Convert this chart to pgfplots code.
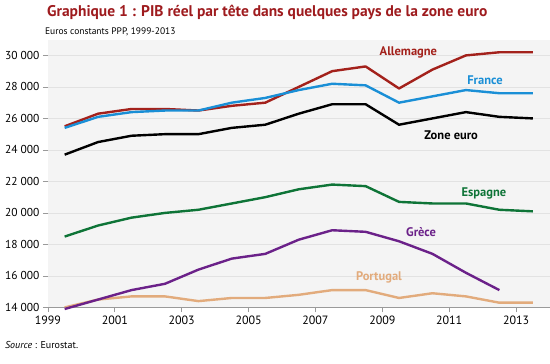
\documentclass[border=0pt]{standalone}
\usepackage{fontspec}
\setmainfont{PT Sans}
\usepackage{pgfplots}
\pgfplotsset{compat=1.18}
\definecolor{titred}{HTML}{9E1B1E}
\definecolor{cAll}{HTML}{A3211B}
\definecolor{cFra}{HTML}{1A8FD6}
\definecolor{cEsp}{HTML}{0E7437}
\definecolor{cGre}{HTML}{6B2189}
\definecolor{cPor}{HTML}{E2AB7C}
\definecolor{bgc}{HTML}{F4F4F4}
\definecolor{gridc}{HTML}{E2E2E2}
\definecolor{axc}{HTML}{9A9A9A}
\begin{document}
\begin{tikzpicture}
\path (0pt,0pt) rectangle (550pt,364pt);
\node[anchor=west, text=titred, inner sep=0pt, font=\fontsize{15.5}{17}\selectfont\bfseries] at (47pt,352pt) {Graphique 1 : PIB réel par tête dans quelques pays de la zone euro};
\node[anchor=west, inner sep=0pt, font=\fontsize{9.5}{11}\selectfont] at (45pt,332pt) {Euros constants PPP, 1999-2013};
\node[anchor=west, inner sep=0pt, font=\fontsize{10}{12}\selectfont] at (5pt,19pt) {\textit{Source} : Eurostat.};
\begin{axis}[at={(48pt,56.3pt)}, anchor=south west, scale only axis,
  width=502pt, height=268pt,
  xmin=1999, xmax=2014, ymin=14000, ymax=31000,
  scaled y ticks=false, scaled x ticks=false,
  axis background/.style={fill=bgc},
  axis x line*=bottom, axis y line*=left,
  y axis line style={draw=none},
  x axis line style={draw=axc, line width=1pt},
  xtick={1999,2001,...,2013},
  ytick={14000,16000,...,30000},
  ymajorgrids, grid style={gridc, line width=0.8pt},
  tick align=outside, major tick length=5pt,
  tick style={axc, line width=0.8pt},
  /pgf/number format/assume math mode=true,
  x tick label style={/pgf/number format/1000 sep={}, font=\fontsize{12}{14}\selectfont},
  y tick label style={/pgf/number format/1000 sep={\ }, font=\fontsize{11.5}{13}\selectfont},
  clip=false,
  every axis plot/.append style={line width=2.4pt, line join=round, no marks},
]
\addplot[cPor] coordinates {(1999.5,14000)(2000.5,14500)(2001.5,14700)(2002.5,14700)(2003.5,14400)(2004.5,14600)(2005.5,14600)(2006.5,14800)(2007.5,15100)(2008.5,15100)(2009.5,14600)(2010.5,14900)(2011.5,14700)(2012.5,14300)(2013.5,14300)};
\addplot[cGre] coordinates {(1999.5,13900)(2000.5,14500)(2001.5,15100)(2002.5,15500)(2003.5,16400)(2004.5,17100)(2005.5,17400)(2006.5,18300)(2007.5,18900)(2008.5,18800)(2009.5,18200)(2010.5,17400)(2011.5,16200)(2012.5,15100)};
\addplot[cEsp] coordinates {(1999.5,18500)(2000.5,19200)(2001.5,19700)(2002.5,20000)(2003.5,20200)(2004.5,20600)(2005.5,21000)(2006.5,21500)(2007.5,21800)(2008.5,21700)(2009.5,20700)(2010.5,20600)(2011.5,20600)(2012.5,20200)(2013.5,20100)};
\addplot[black] coordinates {(1999.5,23700)(2000.5,24500)(2001.5,24900)(2002.5,25000)(2003.5,25000)(2004.5,25400)(2005.5,25600)(2006.5,26300)(2007.5,26900)(2008.5,26900)(2009.5,25600)(2010.5,26000)(2011.5,26400)(2012.5,26100)(2013.5,26000)};
\addplot[cAll] coordinates {(1999.5,25500)(2000.5,26300)(2001.5,26600)(2002.5,26600)(2003.5,26500)(2004.5,26800)(2005.5,27000)(2006.5,28000)(2007.5,29000)(2008.5,29300)(2009.5,27900)(2010.5,29100)(2011.5,30000)(2012.5,30200)(2013.5,30200)};
\addplot[cFra] coordinates {(1999.5,25400)(2000.5,26100)(2001.5,26400)(2002.5,26500)(2003.5,26500)(2004.5,27000)(2005.5,27300)(2006.5,27800)(2007.5,28200)(2008.5,28100)(2009.5,27000)(2010.5,27400)(2011.5,27800)(2012.5,27600)(2013.5,27600)};
\node[text=cAll, font=\fontsize{12.5}{14}\selectfont\bfseries] at (axis cs:2009.78,30220) {Allemagne};
\node[text=cFra, font=\fontsize{12.5}{14}\selectfont\bfseries] at (axis cs:2012.07,28450) {France};
\node[text=black, font=\fontsize{12.5}{14}\selectfont\bfseries] at (axis cs:2011.06,24950) {Zone euro};
\node[text=cEsp, font=\fontsize{12.5}{14}\selectfont\bfseries] at (axis cs:2012.04,21260) {Espagne};
\node[text=cGre, font=\fontsize{12.5}{14}\selectfont\bfseries] at (axis cs:2010.16,18760) {Grèce};
\node[text=cPor, font=\fontsize{12.5}{14}\selectfont\bfseries] at (axis cs:2008.9,15900) {Portugal};
\end{axis}
\end{tikzpicture}
\end{document}
